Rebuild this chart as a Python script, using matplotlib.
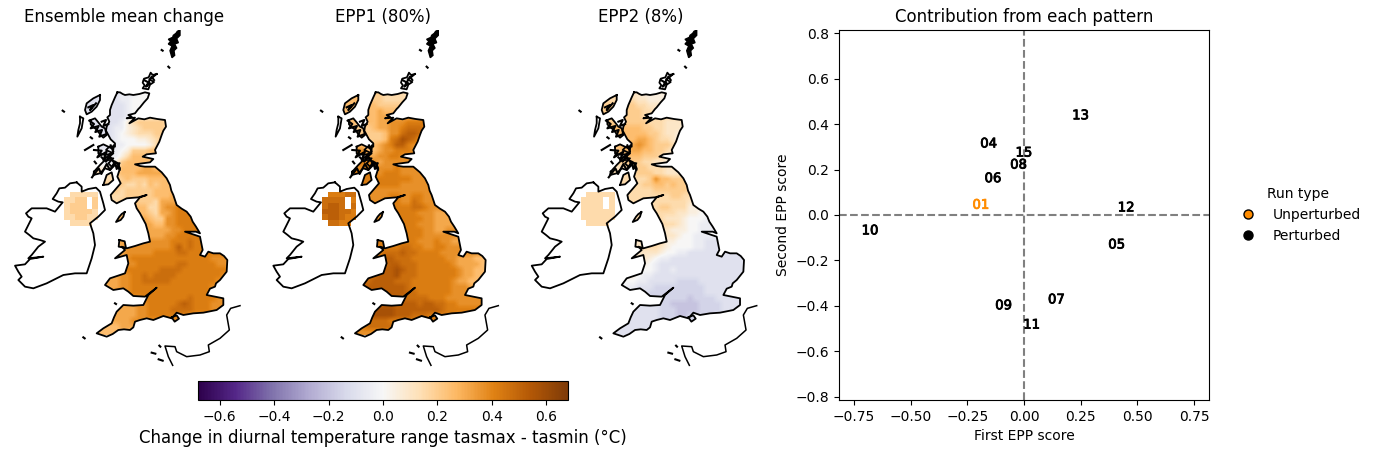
import numpy as np
import matplotlib
matplotlib.use('Agg')
import matplotlib.pyplot as plt
import matplotlib.patheffects as pe
from matplotlib.lines import Line2D
from matplotlib.path import Path

W, H = 1376, 454

# coastlines (map units)
great_britain = [(352,217),(360,217),(368,222),(375,225),(388,223),(400,225),(418,222),(435,217),(448,220),(443,235),(432,247),(420,262),(415,267),(405,280),(385,285),(395,290),(380,295),(405,293),(388,310),(415,295),(433,298),(450,293),(472,297),(495,300),(498,320),(490,332),(485,345),(478,365),(465,390),(468,400),(440,403),(428,410),(460,417),(450,427),(405,433),(420,438),(435,440),(465,440),(485,457),(500,475),(510,495),(514,512),(520,525),(530,555),(545,566),(560,575),(572,590),(578,605),(588,620),(600,640),(588,635),(555,635),(600,650),(604,670),(608,690),(600,705),(615,710),(625,695),(640,700),(660,700),(672,708),(682,720),(680,755),(660,780),(648,790),(645,800),(630,806),(620,825),(645,830),(670,835),(670,855),(650,870),(610,878),(580,880),(550,885),(530,878),(515,895),(490,888),(460,900),(440,895),(420,900),(405,905),(400,922),(390,930),(372,928),(355,930),(338,942),(320,950),(305,945),(290,940),(310,925),(335,910),(342,892),(350,875),(370,855),(400,857),(430,855),(445,825),(470,803),(435,830),(400,828),(385,815),(370,805),(340,810),(315,795),(330,775),(375,760),(385,730),(380,705),(345,715),(375,690),(365,680),(380,685),(405,678),(430,670),(450,665),(445,640),(437,612),(420,580),(410,565),(405,550),(420,532),(440,525),(415,532),(380,535),(350,550),(335,540),(332,525),(345,510),(362,490),(352,470),(360,445),(350,428),(335,440),(325,430),(340,415),(322,415),(340,400),(318,390),(328,380),(345,380),(345,370),(332,358),(325,345),(318,332),(320,320),(328,305),(322,292),(330,285),(330,270),(335,255),(345,232)]
ireland = [(230,487),(210,490),(195,503),(178,505),(170,520),(158,537),(175,545),(188,547),(165,575),(140,565),(125,565),(95,565),(78,580),(85,590),(95,595),(85,615),(75,635),(88,645),(100,655),(120,660),(135,665),(115,680),(95,705),(85,715),(130,710),(90,717),(75,733),(45,737),(55,755),(65,770),(55,780),(75,800),(100,805),(140,790),(160,780),(190,765),(225,760),(260,760),(265,745),(275,715),(285,675),(280,640),(270,610),(295,590),(315,570),(310,550),(300,515),(288,503),(265,507),(245,515),(245,500)]
shetland = [(540,30),(532,34),(528,40),(520,46),(518,52),(505,58),(512,64),(505,72),(516,78),(510,92),(516,113),(524,106),(522,92),(530,84),(524,72),(535,68),(530,56),(540,46)]
orkney = [(470,162),(458,165),(452,158),(446,172),(432,176),(428,188),(434,196),(428,205),(445,208),(450,194),(462,186),(448,178),(458,172)]
lewis = [(300,225),(280,235),(260,250),(255,270),(260,283),(275,275),(290,260),(300,240)]
uist = [(240,290),(250,295),(245,325),(232,350),(235,330),(240,310)]
skye = [(272,300),(285,295),(295,307),(305,320),(315,325),(320,345),(310,353),(300,343),(292,330),(282,323),(272,313)]
coll = [(255,390),(280,375)]
mull = [(295,380),(310,373),(335,385),(342,375),(338,400),(315,405),(295,400)]
jura = [(282,455),(300,435),(315,420),(335,420),(355,430),(360,450),(345,435),(330,450),(315,445),(300,460),(280,465)]
arran = [(310,495),(320,465),(335,457),(340,480),(325,493)]
man = [(374,576),(365,582),(358,590),(348,606),(362,600),(370,590)]
anglesey = [(358,660),(356,680),(378,684),(374,664)]
wight = [(515,892),(524,905),(537,896),(530,886)]
# the tangle of small sea lochs and skerries on the west coast
lochs = [[(265,262),(280,255),(270,270),(288,250)],
         [(268,302),(282,312),(272,325),(296,318),(286,336),(306,330),(298,350),(320,342)],
         [(305,305),(318,300),(310,318),(325,312)],
         [(282,390),(305,392),(292,412),(320,395),(310,420),(340,395),(332,376)],
         [(276,472),(296,445),(304,462),(320,432),(330,450),(345,425),(350,447),(358,430)],
         [(305,412),(318,425),(330,410),(342,428)],
         [(432,180),(450,190),(438,200),(455,170),(462,180)]]
dots = [[(188,272),(192,275)],[(485,90),(488,92)],[(505,140),(508,143)],[(345,850),(348,852)],[(250,952),(254,955)],[(455,998),(466,1001)],[(476,1018),(488,1022)],[(478,977),(481,980)],[(272,352),(276,355)],[(284,425),(288,430)]]
france = [(720,857),(692,865),(680,885),(688,930),(660,955),(625,975),(628,995),(600,1005),(560,1010),(530,995),(525,980),(495,978),(505,1010),(518,1036)]

# gridded change, one character per cell, from the west and north
level_value = {'z':-0.2,'a':-0.15,'b':-0.1,'c':-0.05,'0':0.0,'1':0.05,'2':0.1,'3':0.15,'4':0.2,'5':0.25,'6':0.31,'7':0.37,'8':0.42,'9':0.47,'A':0.52,'B':0.57,'.':np.nan}

ens_rows = ["bbbbbbccc000","bbbbbbcc0000","bbbbbbbc0000","bbbbbbbc0011","bbbbbbbc0222","bbbbbbc13444443","bbbbbcc12344443","bbbbbc012333443","bbbbbc000112343","bbbbbcc0000135","cccccc014445556","cccccc1355556","ccccc14555555","1111115555665","3333345556666","33333345444555","44444443343545","444444344444555","3333333444445556","33333344544436666","55555555555336778","555555555554366788","5555555555654477888","6666666666665577888","666666666666666778888","6666666666666677888898","66666667777777788898","6666666777777778A8988","66666667777788889988","66666677888888888888887776","66666677788888889988888776","66666668888889999888888887","66666677889899998888888877","66666677889999988888888777","66666677888888888888887777","66666777888888888888887777","66666777778888888898888777","66666666677888889A9888777","6666666667788889999888777","5555666667788888887777777","5566666677777777","55555566","55555"]
epp1_rows = ["5555544333322","5555544333333","5555554444","5555556555","5555556666","555555667778888","44444566778999887","44444445779AA987","6655444589BA9777","665535678AA8776","77775567788877","88886677887776","8888776777777","7777777778777","8888887888777","8888888888887","88888888887777","8888777777777777","7777777788778877","7777777888779877","77777777888899877","777777778888877766","7777777788888877666","77777777788887776666","8888888888888877667766","8888888888888877777766","8888888888888777877666","88888888889988778877","8888888999A9988887777","8888889AA999888888776665","88888899AA9998888887666654","8888899AABA99888888876655","888999AAAB999888888876655","99999AAAA99988888887665","999AAAAAAAA9888888877766","999AAAAAAAA99888888777666","99AAAAAAAA99999888777777","AAAAAAAAA9AAA9AA9988777","AAAAABBBBAAAAAAAA9888","AAAAABBBBAAA9998888877","AAAA9999888888","8888999","7777"]
epp2_rows = ["33333221111","333333221111","44444433222","44444443322","4444444333","44444444333222211","5555555443322211","5555555544322111","4455556654332111","4455667654443211","444556655443221","4444555444322","44444443322111","2222334433322","3333334443322","33333333475544","3333333445545444","33333333344444433","3333333333334433","33333333333333322","33333333334433311","3333333333333221100","333333333332221000c","33333333333332100ccc","22222222222211100cccc","2222222222222100ccccc","2222222333311000ccbbb","2222222333210000ccbbbb","2222222222100ccbbbbbb","2222222210ccbbbbbbbbbbbbbb","111111110cbbbbbbbbbbbbbbbb","111111100cbbcbbbbbbbbbbbbb","1111110ccbbbbbbbbbbbbbbbbb","110000ccbbbbbaaaabbbbbbbbb","0000ccbbbaaaaaaaaabbbbbbbb","ccccccbbaaaaaaaaaabbbbbbbb","bbbbbbbaaaaaaaazaaaabbbbbb","bbbbbbbbbbaazzzzzaaaabbbbb","bbbbbbbbbbaaazzzzaaaabbb","bbbbbbbbbbaaazzaaaaab","bbbbbbbbbbaaaaaa","bbbbbbbbb","bbbbb"]
ens_ni = [".33333","3344.4","3444.4","344443","334433",".3333."]
epp1_ni = [".88899","9999.8","9AA9.9","AAA998","9AA988",".9988."]
epp2_ni = [".33333","3333.3","3333.3","333333","333333",".3333."]

titles = ['Ensemble mean change', 'EPP1 (80%)', 'EPP2 (8%)']
map_lefts = [9, 267.3, 525.7]

run_names = ['01','04','05','06','07','08','09','10','11','12','13','15']
first_score = [-0.19,-0.156,0.409,-0.137,0.143,-0.024,-0.09,-0.679,0.034,0.451,0.25,0.0]
second_score = [0.043,0.313,-0.132,0.16,-0.374,0.22,-0.40,-0.07,-0.485,0.031,0.437,0.273]
score_ticks = [-0.75,-0.5,-0.25,0,0.25,0.5,0.75]
cbar_ticks = [-0.6,-0.4,-0.2,0,0.2,0.4,0.6]


def box(left, top, right, bottom):
    return [left / W, 1 - bottom / H, (right - left) / W, (bottom - top) / H]


def decode(rows, ncols):
    return np.array([[level_value[c] for c in r.ljust(ncols, r[-1])[:ncols]] for r in rows])


land_polys = [great_britain, orkney, lewis, uist, skye, mull, jura, arran, man, anglesey, wight]
verts, codes = [], []
for poly in land_polys:
    verts += poly + [poly[0]]
    codes += [Path.MOVETO] + [Path.LINETO] * (len(poly) - 1) + [Path.CLOSEPOLY]
land_path = Path(verts, codes)

fig = plt.figure(figsize=(W / 100, H / 100), dpi=100)
vlim = 0.68
cmap = 'PuOr_r'

ni_x = 192 + 17 * np.arange(7)
ni_y = 515 + 17 * np.arange(7)

for i, (rows, ni_rows) in enumerate([(ens_rows, ens_ni), (epp1_rows, epp1_ni), (epp2_rows, epp2_ni)]):
    ax = fig.add_axes(box(map_lefts[i], 30, map_lefts[i] + 231, 366))
    im = ax.imshow(decode(rows, 26), cmap=cmap, vmin=-vlim, vmax=vlim, extent=(255, 697, 946, 215),
                   interpolation='bilinear', aspect='auto')
    im.set_clip_path(land_path, ax.transData)
    ax.pcolormesh(ni_x, ni_y, np.ma.masked_invalid(decode(ni_rows, 6)), cmap=cmap, vmin=-vlim, vmax=vlim)
    for poly in land_polys + [ireland]:
        closed = np.array(poly + [poly[0]])
        ax.plot(closed[:, 0], closed[:, 1], color='k', lw=1.3)
    sh = np.array(shetland)
    ax.fill(sh[:, 0], sh[:, 1], color='k', lw=1.0)
    for line in lochs + [coll]:
        line = np.array(line)
        ax.plot(line[:, 0], line[:, 1], color='k', lw=1.5)
    fr = np.array(france)
    ax.plot(fr[:, 0], fr[:, 1], color='k', lw=1.1, clip_on=False)
    for d in dots:
        d = np.array(d)
        ax.plot(d[:, 0], d[:, 1], color='k', lw=1.5)
    ax.set_xlim(27, 720)
    ax.set_ylim(1038, 30)
    ax.axis('off')
    ax.set_title(titles[i], fontsize=12)
    sm = im

cax = fig.add_axes(box(198, 381, 568, 400))
cb = fig.colorbar(sm, cax=cax, orientation='horizontal', ticks=cbar_ticks)
cb.set_label('Change in diurnal temperature range tasmax - tasmin (°C)', fontsize=12)
cb.ax.tick_params(labelsize=10)

ax = fig.add_axes(box(839, 30, 1209, 400))
ax.set_xlim(-0.816, 0.816)
ax.set_ylim(-0.815, 0.815)
ax.axhline(0, color='grey', ls='--')
ax.axvline(0, color='grey', ls='--')
for name, a, b in zip(run_names, first_score, second_score):
    colour = 'darkorange' if name == '01' else 'k'
    # slight outline, the labels in the reference are overdrawn and look thick
    ax.text(a, b, name, color=colour, fontsize=9.5, ha='center', va='center',
            path_effects=[pe.withStroke(linewidth=0.6, foreground=colour)])
ax.set_xticks(score_ticks)
ax.set_xlabel('First EPP score')
ax.set_ylabel('Second EPP score')
ax.set_title('Contribution from each pattern', fontsize=12)
handles = [Line2D([], [], ls='', marker='o', ms=6.5, mfc='darkorange', mec='k', label='Unperturbed'),
           Line2D([], [], ls='', marker='o', ms=6.5, mfc='k', mec='k', label='Perturbed')]
ax.legend(handles=handles, title='Run type', loc='center left', bbox_to_anchor=(1.034, 0.5), frameon=False)

fig.savefig('out.png', dpi=100)
